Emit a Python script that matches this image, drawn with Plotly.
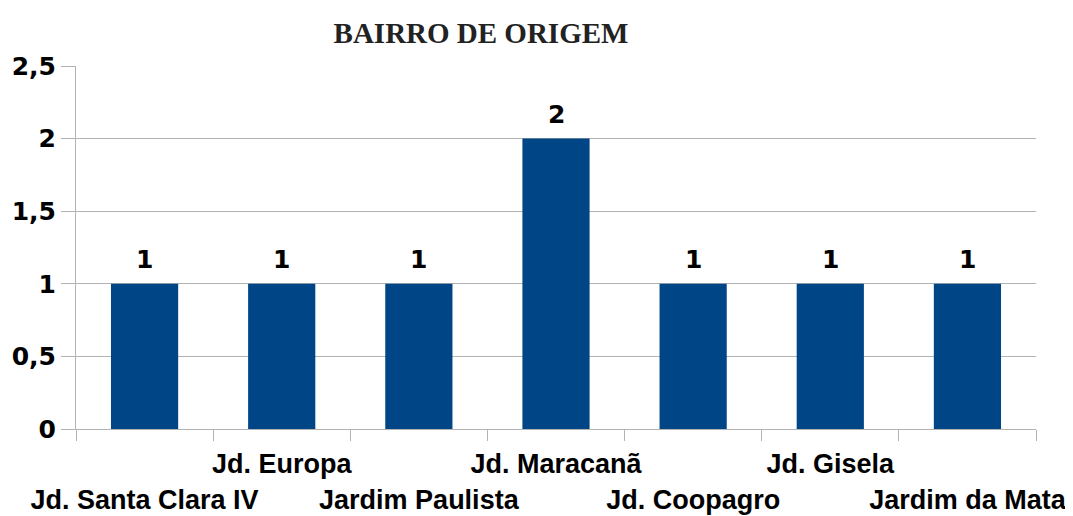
import plotly.graph_objects as go

categories = ["Jd. Santa Clara IV", "Jd. Europa", "Jardim Paulista", "Jd. Maracanã",
              "Jd. Coopagro", "Jd. Gisela", "Jardim da Mata"]
values = [1, 1, 1, 2, 1, 1, 1]
title_text = "BAIRRO DE ORIGEM"

# staggered labels: even indices go on the lower row
tick_text = [("<br>" + c) if i % 2 == 0 else c for i, c in enumerate(categories)]

bar_color = "#004586"
grid_color = "#b3b3b3"

fig = go.Figure()
fig.add_trace(go.Bar(
    x=categories, y=values, marker=dict(color=bar_color, line=dict(width=0)),
    width=0.49, showlegend=False, hoverinfo="skip",
))

for c, v in zip(categories, values):
    fig.add_annotation(
        x=c, y=v, xref="x", yref="y", text=str(v), showarrow=False,
        yanchor="bottom", yshift=8,
        font=dict(family="DejaVu Sans, Liberation Sans, sans-serif", size=25, color="black", weight="bold"),
    )

fig.update_layout(
    width=1073, height=516,
    margin=dict(l=68, r=45, t=58, b=95),
    paper_bgcolor="white", plot_bgcolor="white",
    separators=",.",
    bargap=0.51,
    title=dict(
        text="<b>" + title_text + "</b>", x=473 / 1073, xref="container", xanchor="center",
        y=1 - 25 / 516, yref="container", yanchor="middle",
        font=dict(family="Liberation Serif, Times New Roman, serif", size=29, color="#222222"),
    ),
)

fig.update_xaxes(
    type="category", tickmode="array", tickvals=categories, ticktext=tick_text,
    tickson="boundaries", ticks="outside", ticklen=11, tickcolor=grid_color, tickwidth=1,
    showgrid=False, showline=True, linecolor=grid_color, linewidth=1,
    tickfont=dict(family="Liberation Sans, Arial, sans-serif",
                  size=27, color="black", weight="bold"),
    tickangle=0, ticklabelstandoff=11, automargin=False,
)

fig.update_yaxes(
    range=[0, 2.5], dtick=0.5, tick0=0,
    showgrid=True, gridcolor=grid_color, gridwidth=1,
    ticks="outside", ticklen=14, tickcolor=grid_color,
    showline=True, linecolor=grid_color, linewidth=1,
    zeroline=False, automargin=False,
    tickfont=dict(family="DejaVu Sans, Liberation Sans, sans-serif", size=25, color="black", weight="bold"),
)

fig.write_html("out.html")
